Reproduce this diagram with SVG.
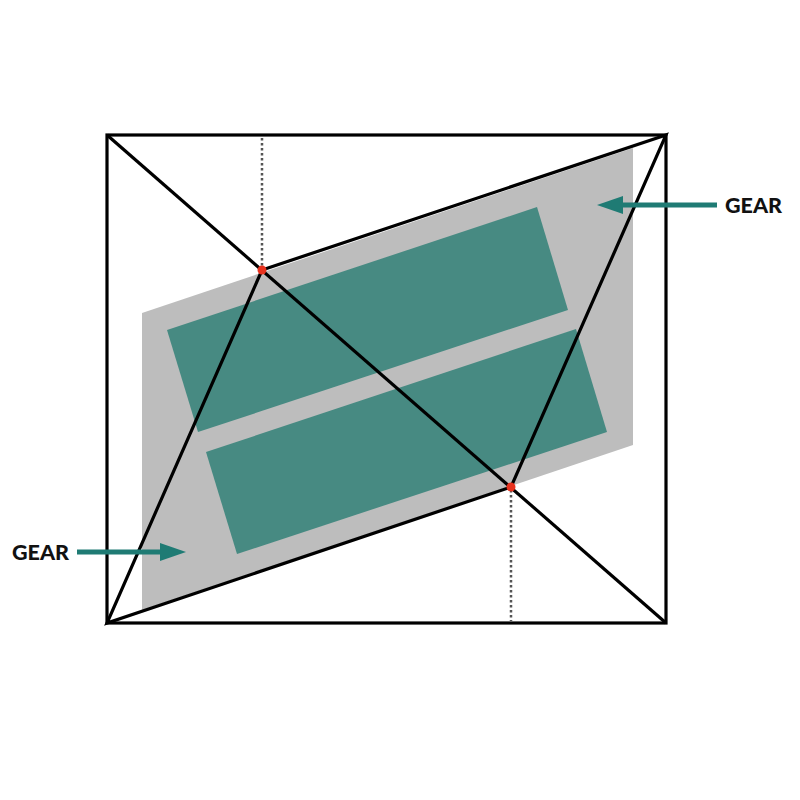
<svg xmlns="http://www.w3.org/2000/svg" width="800" height="800" viewBox="0 0 800 800">
  <defs>
    <style>
      .line { stroke: #000; stroke-width: 3.2; fill: none; stroke-linejoin: miter; }
      .dot-line { stroke: #555; stroke-width: 2.5; stroke-dasharray: 2.5 2.5; fill: none; }
      .teal { fill: #478a82; }
      .gray { fill: #bdbdbd; }
      .arrow { stroke: #1f7b74; stroke-width: 5; fill: none; }
      .head { fill: #1f7b74; }
      .label { font-family: Lato, "Liberation Sans", sans-serif; font-weight: 900; font-size: 21px; fill: #111; }
      .pt { fill: #e8321e; }
    </style>
  </defs>
  <rect width="800" height="800" fill="#fff"/>
  <g id="gear-body">
    <polygon class="gray" points="142,313 633,148 633,445 142,610"/>
  </g>
  <g id="teal-top">
    <polygon class="teal" points="167,330 537,207 568,310 198,432"/>
  </g>
  <g id="teal-bottom">
    <polygon class="teal" points="206,452 576,329 607,432 237,554"/>
  </g>
  <g id="connectors">
    <line class="dot-line" x1="262" y1="138" x2="262" y2="268"/>
    <line class="dot-line" x1="511" y1="490" x2="511" y2="621"/>
    <rect class="line" x="107" y="135" width="559" height="488"/>
    <line class="line" x1="107" y1="135" x2="666" y2="623"/>
    <polygon class="line" points="666,135 262,270 107,623 511,487"/>
    <line class="arrow" x1="717" y1="205" x2="618" y2="205"/>
    <polygon class="head" points="597,205 623,196 623,214"/>
    <line class="arrow" x1="77" y1="552" x2="165" y2="552"/>
    <polygon class="head" points="186,552 160,543 160,561"/>
  </g>
  <g id="points">
    <circle class="pt" cx="262" cy="270" r="4.5"/>
    <circle class="pt" cx="511" cy="487" r="4.5"/>
  </g>
  <g id="label-top">
    <text class="label" x="725" y="213" textLength="57" lengthAdjust="spacingAndGlyphs">GEAR</text>
  </g>
  <g id="label-bottom">
    <text class="label" x="12" y="560" textLength="57" lengthAdjust="spacingAndGlyphs">GEAR</text>
  </g>
</svg>
